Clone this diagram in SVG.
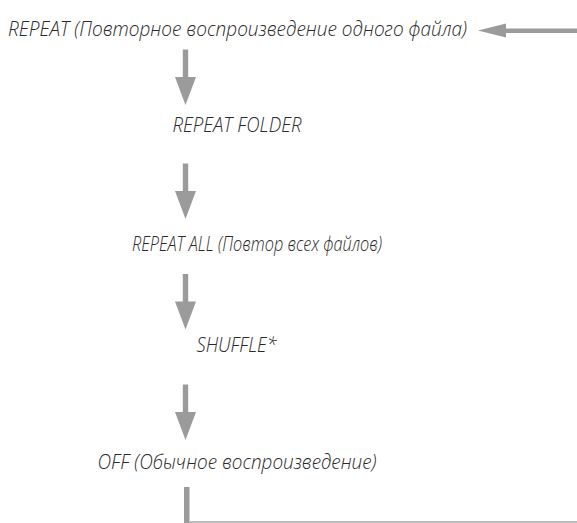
<svg xmlns="http://www.w3.org/2000/svg" width="577" height="523" viewBox="0 0 577 523">
<style>
.t{font-family:"Open Sans","Liberation Sans",sans-serif;font-style:italic;font-weight:300;font-size:20px;fill:#2a2a2a;}
.a{fill:#9b9b9b;}
</style>
<defs>
<path id="down" d="M-2.7,0 H2.7 V27.5 H10.5 L0,55.5 L-10.5,27.5 H-2.7 Z"/>
</defs>
<rect width="577" height="523" fill="#fff"/>
<g id="connectors" class="a">
<path d="M478,30.5 L506,23.5 V28.5 H577 V33 H506 V37.5 Z"/>
<use href="#down" x="185.5" y="49.5"/>
<use href="#down" x="185.5" y="163.5"/>
<use href="#down" x="185.5" y="274"/>
<use href="#down" x="185.5" y="384.5"/>
<rect x="184" y="487" width="5.5" height="36"/>
<rect x="189" y="521" width="388" height="2" fill="#bdbdbd"/>
</g>
<g id="n1"><text class="t" x="8" y="36" textLength="459" lengthAdjust="spacingAndGlyphs">REPEAT (Повторное воспроизведение одного файла)</text></g>
<g id="n2"><text class="t" x="172.5" y="132" textLength="129" lengthAdjust="spacingAndGlyphs">REPEAT FOLDER</text></g>
<g id="n3"><text class="t" x="132" y="251" textLength="250" lengthAdjust="spacingAndGlyphs">REPEAT ALL (Повтор всех файлов)</text></g>
<g id="n4"><text class="t" x="196.5" y="351.5" textLength="80" lengthAdjust="spacingAndGlyphs">SHUFFLE*</text></g>
<g id="n5"><text class="t" x="97.5" y="468.5" textLength="279" lengthAdjust="spacingAndGlyphs">OFF (Обычное воспроизведение)</text></g>
</svg>
